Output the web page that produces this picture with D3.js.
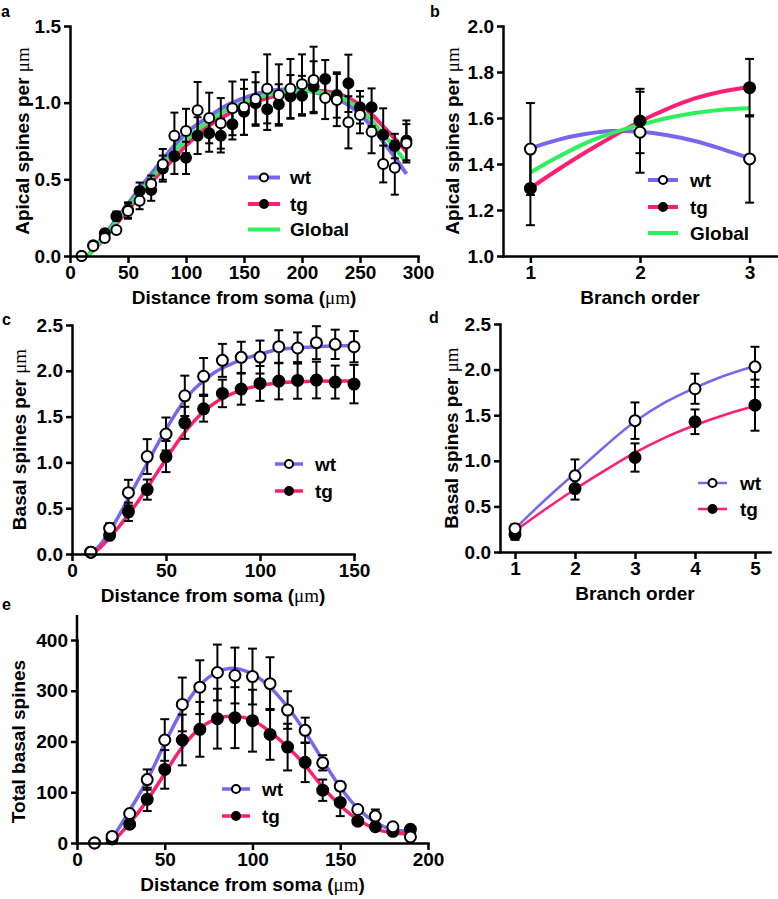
<!DOCTYPE html>
<html><head><meta charset="utf-8">
<script src="https://cdn.jsdelivr.net/npm/d3@7"></script>
<style>
body{margin:0;background:#fff}
text{font-family:"Liberation Sans",Arial,sans-serif;font-weight:bold;font-size:19px;fill:#000}
.mu{font-family:"Liberation Serif","Times New Roman",serif;font-weight:normal}
.letter{font-size:16px}
</style>
</head><body>
<svg id="fig" width="778" height="899"></svg>
<script>
// ---------- Panel a : apical spines per µm vs distance ----------
const aX = [10,20,30,40,50,60,70,80,90,100,110,120,130,140,150,160,170,180,190,200,210,220,230,240,250,260,270,280,290];
const aWt = [0.00,0.065,0.117,0.17,0.293,0.36,0.47,0.598,0.785,0.815,0.95,0.90,0.865,0.963,0.97,1.024,1.09,1.05,1.09,1.12,1.148,1.03,1.017,0.872,0.92,0.81,0.60,0.576,0.735];
const aWtSE = [0,0.01,0.015,0.02,0.05,0.055,0.055,0.10,0.15,0.145,0.185,0.165,0.165,0.175,0.18,0.175,0.225,0.2,0.195,0.195,0.217,0.137,0.17,0.17,0.12,0.14,0.12,0.176,0.125];
const aTg = [0.00,0.07,0.148,0.26,0.30,0.424,0.43,0.57,0.65,0.64,0.785,0.80,0.785,0.86,0.94,0.996,0.957,0.99,1.04,1.045,1.105,1.155,1.05,1.126,0.97,0.97,0.79,0.717,0.754];
const aTgSE = [0,0.01,0.02,0.03,0.05,0.055,0.07,0.085,0.115,0.105,0.12,0.12,0.11,0.1,0.15,0.137,0.135,0.13,0.14,0.13,0.165,0.123,0.148,0.187,0.106,0.123,0.173,0.08,0.13];
const aFitX = [15,20,30,40,50,60,70,80,90,100,110,120,130,140,150,160,170,180,190,200,210,220,230,240,250,260,270,280,290];
const aFitWt = [0,0.045,0.14,0.24,0.34,0.44,0.535,0.63,0.72,0.80,0.86,0.91,0.96,1.00,1.03,1.055,1.075,1.085,1.088,1.083,1.07,1.05,1.025,0.985,0.925,0.845,0.745,0.645,0.535];
const aFitTg = [0,0.035,0.12,0.21,0.30,0.39,0.48,0.56,0.64,0.72,0.79,0.85,0.90,0.94,0.975,1.005,1.03,1.05,1.065,1.075,1.078,1.075,1.06,1.03,0.985,0.925,0.845,0.765,0.68];
const aFitGlobal = [0,0.04,0.13,0.225,0.32,0.415,0.505,0.595,0.68,0.76,0.825,0.88,0.93,0.97,1.0,1.03,1.05,1.065,1.075,1.078,1.075,1.062,1.043,1.01,0.955,0.885,0.795,0.705,0.61];
const aYTicks = [0,0.5,1.0,1.5];
const aXTicks = [0,50,100,150,200,250,300];

// ---------- Panel b : apical spines per µm vs branch order ----------
const bX = [1,2,3];
const bWt = [1.465,1.538,1.422];
const bWtSE = [0.2,0.176,0.19];
const bTg = [1.294,1.587,1.732];
const bTgSE = [0.16,0.14,0.125];
const bFitX = [1,1.25,1.5,1.75,2,2.25,2.5,2.75,3];
const bFitWt = [1.468,1.505,1.53,1.543,1.54,1.525,1.50,1.465,1.425];
const bFitTg = [1.295,1.375,1.45,1.52,1.585,1.64,1.685,1.715,1.735];
const bFitGlobal = [1.363,1.43,1.49,1.535,1.57,1.60,1.622,1.636,1.642];
const bYTicks = [1.0,1.2,1.4,1.6,1.8,2.0];
const bXTicks = [1,2,3];

// ---------- Panel c : basal spines per µm vs distance ----------
const cX = [10,20,30,40,50,60,70,80,90,100,110,120,130,140,150];
const cWt = [0.02,0.28,0.67,1.064,1.31,1.727,1.94,2.114,2.147,2.15,2.263,2.249,2.307,2.289,2.263];
const cWtSE = [0,0.055,0.14,0.19,0.18,0.22,0.2,0.18,0.17,0.18,0.18,0.17,0.18,0.16,0.17];
const cTg = [0.02,0.204,0.46,0.703,1.064,1.432,1.585,1.753,1.80,1.862,1.888,1.895,1.899,1.877,1.855];
const cTgSE = [0,0.03,0.1,0.11,0.17,0.175,0.14,0.15,0.17,0.19,0.2,0.2,0.2,0.18,0.21];
const cFitX = [10,15,20,25,30,35,40,45,50,55,60,65,70,75,80,90,100,110,120,130,140,150];
const cFitWt = [0.0,0.1,0.25,0.42,0.61,0.80,0.99,1.18,1.36,1.53,1.68,1.80,1.89,1.97,2.03,2.12,2.18,2.235,2.25,2.262,2.27,2.275];
const cFitTg = [0.0,0.07,0.18,0.3,0.43,0.57,0.72,0.88,1.035,1.19,1.33,1.45,1.556,1.635,1.70,1.79,1.84,1.866,1.88,1.886,1.889,1.89];
const cYTicks = [0,0.5,1.0,1.5,2.0,2.5];
const cXTicks = [0,50,100,150];

// ---------- Panel d : basal spines per µm vs branch order ----------
const dX = [1,2,3,4,5];
const dWt = [0.256,0.835,1.44,1.79,2.03];
const dWtSE = [0.045,0.18,0.2,0.165,0.22];
const dTg = [0.194,0.695,1.036,1.428,1.61];
const dTgSE = [0.06,0.12,0.155,0.135,0.28];
const dFitX = [1,1.5,2,2.5,3,3.5,4,4.5,5];
const dFitWt = [0.256,0.57,0.865,1.16,1.43,1.64,1.80,1.935,2.04];
const dFitTg = [0.23,0.465,0.688,0.895,1.09,1.255,1.39,1.505,1.60];
const dYTicks = [0,0.5,1.0,1.5,2.0,2.5];
const dXTicks = [1,2,3,4,5];

// ---------- Panel e : total basal spines vs distance ----------
const eX = [10,20,30,40,50,60,70,80,90,100,110,120,130,140,150,160,170,180,190];
const eWt = [0,13,58,125,203,273,307,336,330,328,314,262,222,158,112,66,53,32,12];
const eWtSE = [0,3,6,20,41,53,53,55,55,55,52,37,25,15,8,6,13,4,3];
const eTg = [0,8,37,86,145,203,224,245,247,241,214,189,159,104,80,43,32,23,27];
const eTgSE = [0,3,5,23,38,50,54,59,60,61,50,46,39,21,27,5,5,3,3];
const eFitWtX = [17,20,30,40,50,60,70,80,90,100,110,120,130,140,150,160,170,180,190];
const eFitWt = [0,10,64,124,196,262,311,337,344,333,307,268,219,163,110,68,41,26,23];
const eFitTgX = [19,20,30,40,50,60,70,80,90,100,110,120,130,140,150,160,170,180,190];
const eFitTg = [0,2,39,84,137,189,226,245,250,242,219,189,153,110,74,46,28,20,18];
const eYTicks = [0,100,200,300,400];
const eXTicks = [0,50,100,150,200];

const BLUE = "#7766ee", PINK = "#ff1f72", GREEN = "#2ef05c";
const svg = d3.select("#fig");

function axisTitle(g, txt, x, y, rotate) {
  const t = g.append("text").attr("text-anchor","middle");
  if (rotate) t.attr("transform", `translate(${x},${y}) rotate(-90)`);
  else t.attr("x", x).attr("y", y);
  const parts = txt.split("μm");
  parts.forEach((p, i) => {
    if (p) t.append("tspan").text(p);
    if (i < parts.length - 1) t.append("tspan").attr("class","mu").text("μm");
  });
  return t;
}

function panel(cfg) {
  const x = d3.scaleLinear().domain(cfg.xDomain).range([cfg.left, cfg.right]);
  const y = d3.scaleLinear().domain(cfg.yDomain).range([cfg.bottom, cfg.top]);
  const g = svg.append("g");
  const line = d3.line().x(d => x(d[0])).y(d => y(d[1])).curve(d3.curveCatmullRom.alpha(0.5));
  cfg.fits.forEach(f => {
    g.append("path").datum(d3.zip(f.x, f.y))
      .attr("fill","none").attr("stroke", f.color).attr("stroke-width", cfg.lw)
      .attr("stroke-linecap","butt").attr("d", line);
  });
  const cap = cfg.cap || 4;
  cfg.series.forEach(s => {
    s.y.forEach((v, i) => {
      const e = s.se[i];
      if (!e) return;
      const cx = x(cfg.xs[i]);
      const y1 = y(v + e), y0 = y(v - e);
      g.append("line").attr("x1",cx).attr("x2",cx).attr("y1",y1).attr("y2",y0)
        .attr("stroke","#000").attr("stroke-width",2);
      [y1, y0].forEach(yy => g.append("line").attr("x1",cx-cap).attr("x2",cx+cap)
        .attr("y1",yy).attr("y2",yy).attr("stroke","#000").attr("stroke-width",2));
    });
  });
  [...cfg.series].reverse().forEach(s => {
    g.selectAll(null).data(s.y).enter().append("circle")
      .attr("cx", (d,i) => x(cfg.xs[i])).attr("cy", d => y(d)).attr("r", cfg.r || 5)
      .attr("fill", s.open ? "#fff" : "#000").attr("stroke","#000").attr("stroke-width",2);
  });
  const xa = d3.axisBottom(x).tickValues(cfg.xTicks).tickSize(7).tickSizeOuter(0).tickPadding(3)
    .tickFormat(cfg.xFmt);
  const ya = d3.axisLeft(y).tickValues(cfg.yTicks).tickSize(6).tickSizeOuter(0).tickPadding(3)
    .tickFormat(cfg.yFmt);
  const gx = g.append("g").attr("transform", `translate(0,${cfg.bottom})`).call(xa);
  const gy = g.append("g").attr("transform", `translate(${cfg.left},0)`).call(ya);
  [gx, gy].forEach(a => {
    a.attr("font-size", null).attr("font-family", null);
    a.select(".domain").attr("stroke","#000").attr("stroke-width",2.5).attr("stroke-linecap","square");
    a.selectAll(".tick line").attr("stroke","#000").attr("stroke-width",2.5);
    a.selectAll(".tick text").attr("fill","#000").style("font-size","19px");
  });
  if (cfg.yTop !== undefined) {
    g.append("line").attr("x1",cfg.left).attr("x2",cfg.left).attr("y1",cfg.bottom).attr("y2",cfg.yTop)
      .attr("stroke","#000").attr("stroke-width",2.5);
  }
  axisTitle(g, cfg.xTitle, (cfg.left + cfg.right) / 2, cfg.bottom + 48, false);
  axisTitle(g, cfg.yTitle, cfg.left + cfg.yTitleOff, (cfg.top + cfg.bottom) / 2, true);
  g.append("text").attr("class","letter").attr("x", cfg.letterX).attr("y", cfg.letterY).text(cfg.letter);
  const L = cfg.legend;
  L.items.forEach((it, k) => {
    const yy = L.ys[k];
    g.append("line").attr("x1",L.x0).attr("x2",L.x1).attr("y1",yy).attr("y2",yy)
      .attr("stroke", it.color).attr("stroke-width", cfg.lw);
    if (it.marker) g.append("circle").attr("cx",(L.x0+L.x1)/2).attr("cy",yy).attr("r",4)
      .attr("fill", it.marker === "open" ? "#fff" : "#000").attr("stroke","#000").attr("stroke-width",2);
    g.append("text").attr("x", L.tx).attr("y", yy).attr("dy","0.35em").text(it.label);
  });
}

const f1 = d3.format(".1f"), f0 = d3.format("d");
const legend3 = [{label:"wt",color:BLUE,marker:"open"},{label:"tg",color:PINK,marker:"filled"},{label:"Global",color:GREEN}];
const legend2 = [{label:"wt",color:BLUE,marker:"open"},{label:"tg",color:PINK,marker:"filled"}];

panel({left:70,right:418,top:26,bottom:256,xDomain:[0,300],yDomain:[0,1.5],
  xTicks:aXTicks,yTicks:aYTicks,xFmt:f0,yFmt:f1,xs:aX,lw:4,r:5,cap:4,
  fits:[{x:aFitX,y:aFitWt,color:BLUE},{x:aFitX,y:aFitTg,color:PINK},{x:aFitX,y:aFitGlobal,color:GREEN}],
  series:[{y:aWt,se:aWtSE,open:true},{y:aTg,se:aTgSE,open:false}],
  xTitle:"Distance from soma (μm)",yTitle:"Apical spines per μm",yTitleOff:-41,
  letter:"a",letterX:1,letterY:17,
  legend:{items:legend3,x0:248,x1:280,tx:290,ys:[177.5,204,229.5]}});

panel({left:503,right:777,top:26,bottom:256,xDomain:[0.75,3.25],yDomain:[1,2],
  xTicks:bXTicks,yTicks:bYTicks,xFmt:f0,yFmt:f1,xs:bX,lw:4,r:5.5,cap:4.5,
  fits:[{x:bFitX,y:bFitWt,color:BLUE},{x:bFitX,y:bFitTg,color:PINK},{x:bFitX,y:bFitGlobal,color:GREEN}],
  series:[{y:bWt,se:bWtSE,open:true},{y:bTg,se:bTgSE,open:false}],
  xTitle:"Branch order",yTitle:"Apical spines per μm",yTitleOff:-44,
  letter:"b",letterX:430,letterY:17,
  legend:{items:legend3,x0:648,x1:678,tx:690,ys:[180,207,233]}});

panel({left:72,right:354,top:325,bottom:554,xDomain:[0,150],yDomain:[0,2.5],
  xTicks:cXTicks,yTicks:cYTicks,xFmt:f0,yFmt:f1,xs:cX,lw:3.5,r:5.5,cap:4.5,
  fits:[{x:cFitX,y:cFitWt,color:BLUE},{x:cFitX,y:cFitTg,color:PINK}],
  series:[{y:cWt,se:cWtSE,open:true},{y:cTg,se:cTgSE,open:false}],
  xTitle:"Distance from soma (μm)",yTitle:"Basal spines per μm",yTitleOff:-46,
  letter:"c",letterX:2,letterY:325,
  legend:{items:legend2,x0:275,x1:303,tx:315,ys:[464,491]}});

panel({left:500,right:770,top:324,bottom:552,xDomain:[0.75,5.25],yDomain:[0,2.5],
  xTicks:dXTicks,yTicks:dYTicks,xFmt:f0,yFmt:f1,xs:dX,lw:2.5,r:5.5,cap:4.5,
  fits:[{x:dFitX,y:dFitWt,color:BLUE},{x:dFitX,y:dFitTg,color:PINK}],
  series:[{y:dWt,se:dWtSE,open:true},{y:dTg,se:dTgSE,open:false}],
  xTitle:"Branch order",yTitle:"Basal spines per μm",yTitleOff:-42.5,
  letter:"d",letterX:429,letterY:323,
  legend:{items:legend2,x0:698,x1:727,tx:740,ys:[483,509]}});

panel({left:77,right:428,top:640,bottom:843,xDomain:[0,200],yDomain:[0,400],yTop:615,
  xTicks:eXTicks,yTicks:eYTicks,xFmt:f0,yFmt:f0,xs:eX,lw:3.5,r:5.5,cap:4.5,
  fits:[{x:eFitWtX,y:eFitWt,color:BLUE},{x:eFitTgX,y:eFitTg,color:PINK}],
  series:[{y:eWt,se:eWtSE,open:true},{y:eTg,se:eTgSE,open:false}],
  xTitle:"Distance from soma (μm)",yTitle:"Total basal spines",yTitleOff:-52,
  letter:"e",letterX:2,letterY:610,
  legend:{items:legend2,x0:222,x1:250,tx:262,ys:[789,816]}});
</script>
</body></html>
